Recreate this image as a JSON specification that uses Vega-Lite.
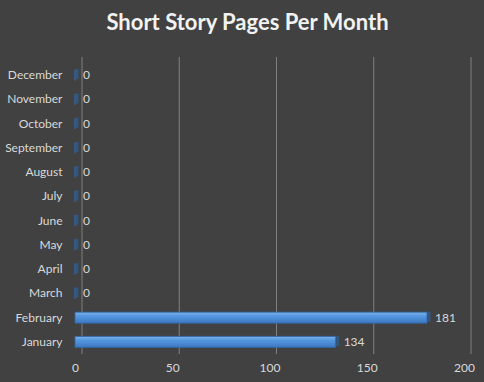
{
  "$schema": "https://vega.github.io/schema/vega-lite/v6.json",
  "width": 389,
  "height": 291,
  "autosize": {"type": "none"},
  "padding": {"left": 75, "top": 63, "right": 20, "bottom": 28},
  "background": "#414141",
  "title": {
    "text": "Short Story Pages Per Month",
    "font": "Lato",
    "fontSize": 22,
    "fontWeight": "bold",
    "color": "#f2f2f2",
    "anchor": "middle",
    "frame": "group",
    "dx": -22,
    "baseline": "alphabetic",
    "offset": 5
  },
  "config": {
    "view": {"stroke": null, "fill": null},
    "font": "Lato"
  },
  "datasets": {
    "months": [
      {"month": "January", "pages": 134},
      {"month": "February", "pages": 181},
      {"month": "March", "pages": 0},
      {"month": "April", "pages": 0},
      {"month": "May", "pages": 0},
      {"month": "June", "pages": 0},
      {"month": "July", "pages": 0},
      {"month": "August", "pages": 0},
      {"month": "September", "pages": 0},
      {"month": "October", "pages": 0},
      {"month": "November", "pages": 0},
      {"month": "December", "pages": 0}
    ],
    "grid": [
      {"g": 0}, {"g": 50}, {"g": 100}, {"g": 150}, {"g": 200}
    ]
  },
  "layer": [
    {
      "data": {"name": "grid"},
      "mark": {"type": "rule", "color": "#808080", "strokeWidth": 1, "xOffset": 7, "yOffset": -6},
      "encoding": {
        "x": {"field": "g", "type": "quantitative", "scale": {"domain": [0, 200]}}
      }
    },
    {
      "data": {"name": "months"},
      "mark": {
        "type": "bar",
        "size": 11,
        "stroke": "#2f68a8",
        "strokeWidth": 0.8,
        "fill": {
          "gradient": "linear",
          "x1": 0, "y1": 0, "x2": 0, "y2": 1,
          "stops": [
            {"offset": 0, "color": "#7cb2ec"},
            {"offset": 0.35, "color": "#5597de"},
            {"offset": 1, "color": "#3b78c2"}
          ]
        }
      },
      "encoding": {
        "y": {
          "field": "month", "type": "nominal",
          "sort": ["December", "November", "October", "September", "August", "July", "June", "May", "April", "March", "February", "January"],
          "axis": {
            "title": null, "domain": false, "ticks": false, "labelPadding": 13,
            "labelColor": "#d9d9d9", "labelFontSize": 12, "labelFont": "Lato"
          }
        },
        "x": {
          "field": "pages", "type": "quantitative",
          "scale": {"domain": [0, 200]},
          "axis": {
            "title": null, "domain": false, "ticks": false, "grid": false,
            "values": [0, 50, 100, 150, 200], "labelFlush": false,
            "labelPadding": 8, "labelColor": "#d9d9d9", "labelFontSize": 12, "labelFont": "Lato"
          }
        }
      }
    },
    {
      "data": {"name": "months"},
      "mark": {"type": "tick", "orient": "vertical", "thickness": 3, "size": 10, "color": "#2d5f9a", "xOffset": 2, "yOffset": -1},
      "encoding": {
        "y": {"field": "month", "type": "nominal", "sort": ["December", "November", "October", "September", "August", "July", "June", "May", "April", "March", "February", "January"]},
        "x": {"field": "pages", "type": "quantitative"}
      }
    },
    {
      "data": {"name": "months"},
      "mark": {"type": "text", "align": "left", "dx": 8, "fontSize": 12, "font": "Lato", "color": "#d9d9d9"},
      "encoding": {
        "y": {"field": "month", "type": "nominal", "sort": ["December", "November", "October", "September", "August", "July", "June", "May", "April", "March", "February", "January"]},
        "x": {"field": "pages", "type": "quantitative"},
        "text": {"field": "pages", "type": "quantitative"}
      }
    }
  ]
}
